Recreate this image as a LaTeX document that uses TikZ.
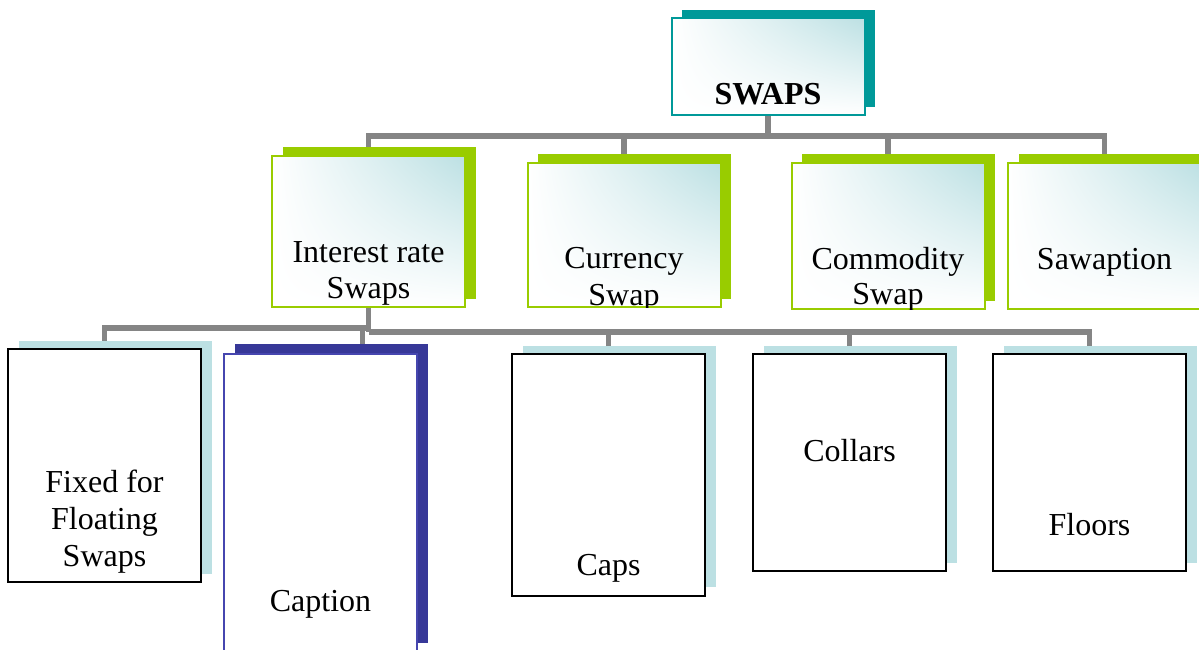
\documentclass[tikz,border=0pt]{standalone}
\usepackage{fontspec}
\setmainfont{Liberation Serif}
\usetikzlibrary{calc,shadings}
\pgfdeclarelayer{bg}
\pgfsetlayers{bg,main}
\definecolor{conngray}{RGB}{133,133,133}
\definecolor{tealone}{RGB}{0,153,153}
\definecolor{greenone}{RGB}{153,204,0}
\definecolor{paleteal}{RGB}{188,224,227}
\definecolor{navyone}{RGB}{55,56,152}
\definecolor{navyline}{RGB}{70,70,175}
\tikzset{
  box/.style={rectangle, inner sep=0pt, outer sep=0pt, minimum width=193pt},
  gradbox/.style={box, shade, upper left=white, upper right=paleteal, lower left=white, lower right=white},
  topbox/.style={gradbox, draw=tealone, line width=2pt},
  topshadow/.style={box, fill=tealone},
  greenbox/.style={gradbox, draw=greenone, line width=2pt},
  greenshadow/.style={box, fill=greenone},
  leafbox/.style={box, fill=white, draw=black, line width=2pt},
  leafshadow/.style={box, fill=paleteal},
  capbox/.style={box, fill=white, draw=navyline, line width=1.5pt},
  capshadow/.style={box, fill=navyone},
  lbl/.style={anchor=base, inner sep=0pt, outer sep=0pt, font=\fontsize{32}{36}\selectfont, align=center},
  conn/.style={draw=conngray, line width=5.5pt}
}
\begin{document}
\begin{tikzpicture}[x=1pt,y=-1pt]
\useasboundingbox (0,0) rectangle (1199,650);

% top
\node[topshadow, minimum height=97pt] (swaps-s) at (778.5,58.5) {};
\node[topbox, minimum height=97pt] (swaps) at (768,66.5) {};
\node[lbl, font=\fontsize{32}{36}\selectfont\bfseries] (swaps-t) at (768,105) {SWAPS};

% second row
\node[greenshadow, minimum height=152pt] (ir-s) at (379.5,223) {};
\node[greenbox, minimum height=151pt] (ir) at (368.5,231.5) {};
\node[lbl] (ir-t) at (368.5,298) {Interest rate\\Swaps};

\node[greenshadow, minimum height=145pt] (cur-s) at (634,226.5) {};
\node[greenbox, minimum height=144pt] (cur) at (624,235) {};
\begin{scope}
  \clip (cur.north west) rectangle (cur.south east);
  \node[lbl, font=\fontsize{32}{37}\selectfont] (cur-t) at (624,305) {Currency\\Swap};
\end{scope}

\node[greenshadow, minimum height=147pt] (com-s) at (898.5,227.5) {};
\node[greenbox, minimum height=146pt] (com) at (888,236) {};
\begin{scope}
  \clip (com.north west) rectangle (com.south east);
  \node[lbl, font=\fontsize{32}{35.5}\selectfont] (com-t) at (888,304.5) {Commodity\\Swap};
\end{scope}

\node[greenshadow, minimum height=147pt] (saw-s) at (1115,227.5) {};
\node[greenbox, minimum height=146pt] (saw) at (1104.5,236) {};
\node[lbl] (saw-t) at (1104.5,269) {Sawaption};

% third row
\node[leafshadow, minimum height=233pt] (fix-s) at (115.5,457.5) {};
\node[leafbox, minimum height=233pt] (fix) at (104.5,465.5) {};
\node[lbl, font=\fontsize{32}{36.7}\selectfont] (fix-t) at (104.5,566) {Fixed for\\Floating\\Swaps};

\node[capshadow, minimum height=299pt] (cap-s) at (331.5,493.5) {};
\node[capbox, minimum height=298pt] (cap) at (320.5,503) {};
\node[lbl] (cap-t) at (320.5,611.5) {Caption};

\node[leafshadow, minimum height=241pt] (caps-s) at (619.5,466.5) {};
\node[leafbox, minimum height=242pt] (caps) at (608.5,475) {};
\node[lbl] (caps-t) at (608.5,575) {Caps};

\node[leafshadow, minimum height=217pt] (col-s) at (860,454.5) {};
\node[leafbox, minimum height=217pt] (col) at (849.5,462.5) {};
\node[lbl] (col-t) at (849.5,461) {Collars};

\node[leafshadow, minimum height=217pt] (flo-s) at (1100,454.5) {};
\node[leafbox, minimum height=217pt] (flo) at (1089.5,462.5) {};
\node[lbl] (flo-t) at (1089.5,535.5) {Floors};

% connectors
\begin{pgfonlayer}{bg}
  \coordinate (j1) at (768,136);
  \coordinate (jL) at (368.5,328);
  \coordinate (jR) at (368.5,332);
  \draw[conn] (swaps.south) -- (j1);
  \foreach \n in {ir,cur,com,saw} \draw[conn] (j1) -| (\n.north);
  \draw[conn] (ir.south) -- (jR);
  \draw[conn] (jL) -| (fix.north);
  \draw[conn] (jL) -| ([xshift=42pt]cap.north);
  \foreach \n in {caps,col,flo} \draw[conn] (jR) -| (\n.north);
\end{pgfonlayer}
\end{tikzpicture}
\end{document}
